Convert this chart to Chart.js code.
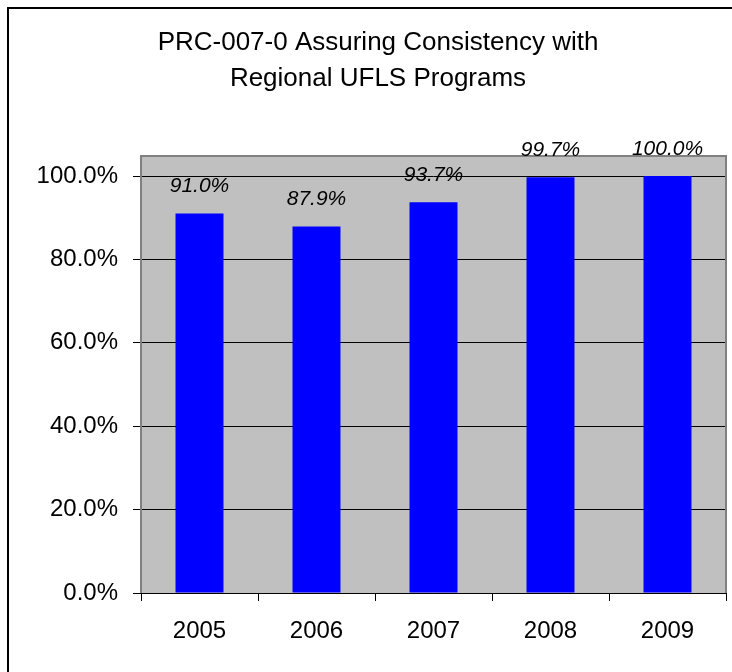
<!DOCTYPE html>
<html>
<head>
<meta charset="utf-8">
<script src="https://cdn.jsdelivr.net/npm/chart.js@4/dist/chart.umd.min.js"></script>
<style>
  html, body { margin: 0; padding: 0; background: #fff; overflow: hidden; }
  #wrap { position: relative; width: 732px; height: 672px; }
  #frame { position: absolute; left: 7px; top: 7px; width: 760px; height: 700px; border: 2px solid #000; }
  #Chart1 { position: absolute; left: 0; top: 0; }
</style>
</head>
<body>
<div id="wrap">
  <div id="frame"></div>
  <canvas id="Chart1" width="732" height="672"></canvas>
</div>
<script>
var years = ['2005', '2006', '2007', '2008', '2009'];
var compliance = [0.910, 0.879, 0.937, 0.997, 1.000];
var yTicks = [0, 0.2, 0.4, 0.6, 0.8, 1.0];
var titleLines = ['PRC-007-0 Assuring Consistency with', 'Regional UFLS Programs'];

var fontFamily = '"Liberation Sans", Arial, sans-serif';
var pct = (v) => (v * 100).toFixed(1) + '%';

// gray plot area with a gray frame, like the Excel original
var plotArea = {
  id: 'plotArea',
  beforeDraw: (chart) => {
    var a = chart.chartArea;
    var ctx = chart.ctx;
    ctx.save();
    ctx.fillStyle = '#c0c0c0';
    ctx.fillRect(a.left, a.top, a.right - a.left, a.bottom - a.top);
    ctx.restore();
  },
  afterDatasetsDraw: (chart) => {
    var a = chart.chartArea;
    var ctx = chart.ctx;
    ctx.save();
    ctx.strokeStyle = '#808080';
    ctx.lineWidth = 2;
    ctx.beginPath();
    ctx.moveTo(a.left, a.bottom);
    ctx.lineTo(a.left, a.top);
    ctx.lineTo(a.right, a.top);
    ctx.lineTo(a.right, a.bottom);
    ctx.stroke();
    ctx.strokeStyle = '#000';
    ctx.lineWidth = 1;
    ctx.beginPath();
    ctx.moveTo(a.left, Math.round(a.bottom) + 0.5);
    ctx.lineTo(a.right, Math.round(a.bottom) + 0.5);
    ctx.stroke();
    ctx.restore();
  }
};

// value labels above bars
var barLabels = {
  id: 'barLabels',
  afterDraw: (chart) => {
    var ctx = chart.ctx;
    var meta = chart.getDatasetMeta(0);
    ctx.save();
    ctx.font = 'italic 21px ' + fontFamily;
    ctx.fillStyle = '#000';
    ctx.textAlign = 'center';
    ctx.textBaseline = 'middle';
    meta.data.forEach((bar, i) => {
      ctx.fillText(pct(compliance[i]), bar.x, bar.y - 27);
    });
    ctx.restore();
  }
};

const createChart1 = () => {
  var ctx = document.getElementById('Chart1');
  var Chart1 = new Chart(ctx, {
    type: 'bar',
    data: {
      labels: years,
      datasets: [{
        label: 'Compliance',
        data: compliance,
        backgroundColor: '#0000ff',
        borderWidth: 0,
        barPercentage: 0.41,
        categoryPercentage: 1
      }]
    },
    options: {
      responsive: false,
      animation: false,
      events: [],
      // left padding pushes the title to the right, as in the original
      layout: { padding: { left: 30, right: 6, top: 0, bottom: 0 } },
      plugins: {
        legend: { display: false },
        tooltip: { enabled: false },
        title: {
          display: true,
          text: titleLines,
          color: '#000',
          font: { family: fontFamily, size: 26, weight: 'normal', lineHeight: 1.385 },
          padding: { top: 25, bottom: 59 }
        }
      },
      scales: {
        x: {
          grid: {
            display: true,
            drawOnChartArea: false,
            drawTicks: true,
            tickLength: 8,
            tickColor: '#000',
            offset: true
          },
          border: { display: false },
          ticks: {
            color: '#000',
            padding: 16,
            font: { family: fontFamily, size: 24 }
          },
          afterFit: (scale) => { scale.height = 79; }
        },
        y: {
          min: 0,
          max: 1.048,
          afterBuildTicks: (scale) => {
            scale.ticks = yTicks.map((v) => ({ value: v }));
          },
          grid: {
            color: '#000',
            lineWidth: 1,
            drawTicks: true,
            tickLength: 8,
            tickColor: '#000'
          },
          border: { display: false },
          ticks: {
            color: '#000',
            padding: 15,
            font: { family: fontFamily, size: 24 },
            callback: (v) => pct(v)
          },
          afterFit: (scale) => { scale.width = 111; }
        }
      }
    },
    plugins: [plotArea, barLabels]
  });
}

window.addEventListener('load', () => {
  createChart1();
});
</script>
</body>
</html>
